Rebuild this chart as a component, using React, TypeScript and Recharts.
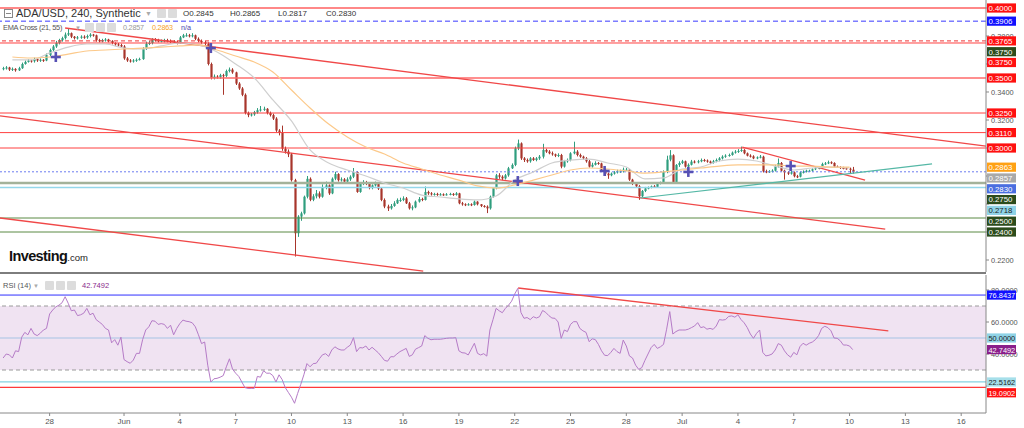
import React from "react";
import {
  ComposedChart,
  Bar,
  Line,
  Scatter,
  XAxis,
  YAxis,
  ReferenceLine,
  ReferenceArea,
} from "recharts";

// 4h candles, index n counted from Jun 1 00:00 (n = 6 per day).
const FIRST_N = -39;
const FIRST_OPEN = 3565;

// prices x 10000
const CLOSES = [
  3570, 3575, 3560, 3565, 3555, 3570, 3600, 3615, 3625, 3620,
  3635, 3625, 3630, 3625, 3665, 3700, 3725, 3750, 3770, 3785,
  3810, 3820, 3795, 3785, 3790, 3795, 3790, 3800, 3810, 3805,
  3770, 3765, 3770, 3775, 3765, 3750, 3740, 3735, 3725, 3640,
  3625, 3620, 3625, 3630, 3635, 3710, 3745, 3750, 3775, 3770,
  3765, 3765, 3770, 3765, 3760, 3755, 3750, 3790, 3805, 3805,
  3800, 3805, 3780, 3765, 3755, 3745, 3600, 3500, 3510, 3505,
  3520, 3515, 3550, 3560, 3540, 3460, 3425, 3380, 3250, 3235,
  3240, 3255, 3270, 3275, 3280, 3250, 3235, 3210, 3125, 3110,
  2995, 2975, 2955, 2770, 2391, 2510, 2533, 2652, 2780, 2630,
  2655, 2676, 2652, 2714, 2733, 2676, 2781, 2814, 2770, 2776,
  2760, 2776, 2795, 2829, 2686, 2745, 2755, 2745, 2714, 2733,
  2745, 2710, 2629, 2582, 2569, 2586, 2605, 2629, 2629, 2640,
  2605, 2569, 2576, 2617, 2636, 2629, 2686, 2676, 2669, 2672,
  2665, 2669, 2665, 2669, 2672, 2665, 2676, 2605, 2598, 2595,
  2598, 2593, 2617, 2598, 2586, 2581, 2569, 2652, 2714, 2805,
  2795, 2783, 2805, 2855, 2879, 2998, 3033, 2926, 2914, 2905,
  2926, 2914, 2926, 2938, 2986, 2974, 2962, 2955, 2945, 2950,
  2867, 2905, 2914, 2962, 2974, 2950, 2938, 2926, 2905, 2867,
  2880, 2893, 2890, 2845, 2817, 2805, 2817, 2826, 2833, 2833,
  2845, 2845, 2774, 2745, 2726, 2655, 2693, 2712, 2717, 2726,
  2722, 2745, 2752, 2829, 2917, 2948, 2752, 2879, 2893, 2905,
  2867, 2880, 2903, 2898, 2905, 2914, 2910, 2903, 2893, 2905,
  2914, 2926, 2938, 2945, 2950, 2967, 2974, 2979, 2986, 2962,
  2945, 2940, 2926, 2933, 2938, 2833, 2830, 2833, 2838, 2869,
  2893, 2838, 2826, 2817, 2826, 2798, 2795, 2826, 2830, 2838,
  2838, 2848, 2855, 2857, 2886, 2890, 2898, 2893, 2867, 2864,
  2857, 2855, 2852, 2845, 2830,
];

const HIGHS = [
  3580, 3585, 3580, 3575, 3570, 3580, 3610, 3625, 3635, 3630,
  3645, 3640, 3640, 3635, 3675, 3710, 3735, 3765, 3780, 3795,
  3825, 3855, 3825, 3800, 3800, 3805, 3805, 3810, 3820, 3815,
  3810, 3780, 3780, 3785, 3780, 3770, 3755, 3750, 3745, 3735,
  3650, 3635, 3635, 3640, 3645, 3720, 3760, 3765, 3785, 3785,
  3780, 3775, 3780, 3780, 3775, 3770, 3765, 3800, 3815, 3820,
  3815, 3820, 3810, 3790, 3775, 3765, 3755, 3610, 3525, 3520,
  3530, 3530, 3560, 3575, 3570, 3545, 3470, 3435, 3390, 3260,
  3250, 3265, 3285, 3300, 3295, 3285, 3260, 3245, 3220, 3135,
  3160, 3010, 2990, 2965, 2780, 2520, 2545, 2660, 2800, 2790,
  2670, 2700, 2690, 2740, 2760, 2740, 2790, 2830, 2820, 2790,
  2785, 2790, 2805, 2857, 2835, 2755, 2770, 2765, 2755, 2740,
  2760, 2750, 2715, 2640, 2595, 2600, 2620, 2640, 2645, 2655,
  2650, 2615, 2590, 2625, 2650, 2645, 2725, 2695, 2685, 2680,
  2680, 2678, 2676, 2678, 2680, 2678, 2685, 2680, 2615, 2605,
  2606, 2605, 2625, 2620, 2600, 2592, 2590, 2660, 2720, 2815,
  2820, 2805, 2815, 2865, 2890, 3010, 3060, 3040, 2935, 2925,
  2935, 2935, 2935, 2950, 3030, 2995, 2985, 2975, 2960, 2962,
  2958, 2915, 2925, 2970, 3045, 2985, 2960, 2945, 2935, 2915,
  2895, 2905, 2900, 2895, 2850, 2825, 2825, 2835, 2845, 2845,
  2860, 2858, 2850, 2780, 2755, 2735, 2700, 2722, 2725, 2732,
  2735, 2752, 2760, 2840, 2945, 2985, 2955, 2885, 2905, 2915,
  2910, 2890, 2915, 2912, 2915, 2925, 2922, 2918, 2910, 2915,
  2925, 2935, 2948, 2955, 2960, 2975, 2985, 2992, 3010, 2992,
  2968, 2955, 2948, 2940, 2950, 2945, 2845, 2842, 2848, 2880,
  2925, 2900, 2845, 2835, 2835, 2832, 2808, 2832, 2840, 2845,
  2845, 2855, 2862, 2865, 2895, 2900, 2910, 2905, 2898, 2875,
  2870, 2866, 2862, 2860, 2865,
];

const LOWS = [
  3555, 3560, 3550, 3550, 3545, 3550, 3565, 3595, 3610, 3610,
  3610, 3615, 3615, 3615, 3620, 3655, 3690, 3715, 3740, 3760,
  3775, 3800, 3785, 3775, 3775, 3780, 3780, 3780, 3790, 3795,
  3760, 3755, 3755, 3760, 3755, 3740, 3730, 3725, 3715, 3630,
  3615, 3610, 3610, 3615, 3625, 3630, 3700, 3735, 3740, 3760,
  3755, 3755, 3755, 3755, 3750, 3745, 3740, 3745, 3785, 3795,
  3790, 3790, 3770, 3755, 3745, 3735, 3590, 3490, 3490, 3495,
  3495, 3380, 3505, 3540, 3530, 3450, 3415, 3370, 3240, 3220,
  3225, 3230, 3245, 3260, 3265, 3240, 3225, 3200, 3115, 3090,
  2980, 2960, 2935, 2760, 2225, 2365, 2480, 2525, 2640, 2620,
  2620, 2640, 2640, 2645, 2705, 2665, 2670, 2770, 2760, 2760,
  2750, 2750, 2765, 2785, 2680, 2680, 2735, 2735, 2705, 2705,
  2725, 2700, 2620, 2570, 2550, 2560, 2580, 2600, 2615, 2620,
  2600, 2560, 2555, 2570, 2610, 2620, 2625, 2665, 2660, 2660,
  2658, 2660, 2658, 2660, 2662, 2658, 2660, 2598, 2588, 2585,
  2588, 2585, 2588, 2590, 2578, 2574, 2535, 2560, 2645, 2705,
  2780, 2770, 2775, 2795, 2850, 2870, 2985, 2915, 2900, 2895,
  2895, 2908, 2905, 2915, 2925, 2965, 2955, 2945, 2935, 2935,
  2855, 2860, 2895, 2905, 2955, 2940, 2930, 2915, 2895, 2860,
  2860, 2875, 2880, 2840, 2800, 2780, 2798, 2810, 2818, 2822,
  2825, 2835, 2765, 2735, 2715, 2630, 2650, 2685, 2705, 2712,
  2715, 2715, 2740, 2745, 2820, 2905, 2745, 2745, 2865, 2885,
  2860, 2860, 2875, 2890, 2890, 2898, 2902, 2895, 2885, 2888,
  2898, 2905, 2918, 2930, 2938, 2945, 2960, 2965, 2972, 2955,
  2940, 2932, 2920, 2920, 2926, 2825, 2820, 2822, 2826, 2832,
  2860, 2832, 2774, 2808, 2810, 2790, 2785, 2790, 2818, 2825,
  2830, 2832, 2842, 2848, 2852, 2878, 2885, 2885, 2860, 2858,
  2850, 2848, 2845, 2814, 2817,
];

const RSI = [
  37.5, 40, 39.5, 37.5, 42, 41.5, 50.5, 53.5, 52, 56,
  52.5, 51.5, 53, 55, 56, 65, 67.5, 69.5, 70.5, 72,
  75.8, 71.7, 67, 67.5, 64, 64.5, 65.5, 68.5, 64.5, 65.5,
  61.5, 60, 58.5, 56, 55, 47, 49, 45.5, 50.5, 36.5,
  35.2, 34.2, 36.2, 40.4, 40.4, 49, 55, 57, 60.8, 60.5,
  58.5, 59, 58.5, 56, 58, 52, 56, 59, 61.2, 60.5,
  60.2, 59.5, 57, 52, 46.5, 47.5, 33, 22.5, 24.5, 24.8,
  25.5, 26.5, 32, 37, 30.5, 28, 26, 22.5, 19, 18.5,
  18.5, 18.5, 26, 25.5, 29.5, 28, 28, 26.5, 22.5, 27,
  24, 19, 16, 13, 9.2, 15.4, 21, 27, 34, 32,
  34, 34.2, 37, 39.5, 40.2, 38.5, 42.5, 44.5, 43.2, 42.5,
  42.5, 44.2, 45.6, 50.2, 41.5, 44, 43.8, 45, 42.5, 44.2,
  42.5, 40.8, 38.5, 36, 35.5, 38.3, 38.3, 40, 41.5, 42.5,
  43.5, 38.5, 39.5, 43, 44, 45, 51.5, 49.8, 48.9, 49.2,
  49.2, 49.2, 49.5, 49.8, 50, 50, 50.2, 42, 40.8, 40.6,
  39.4, 43, 46.7, 40.4, 39.4, 40.2, 38.7, 55, 61.5, 68.5,
  67, 65.8, 68.5, 70.5, 73, 77.5, 81, 66, 62.3, 62.8,
  61.5, 63.3, 62.5, 63.3, 67.2, 66, 64, 62.5, 62.3, 60,
  49.8, 55, 54, 58.5, 60.2, 60.2, 56, 54.5, 53.5, 47.7,
  49.5, 49, 46, 42, 39.2, 39, 41, 43.5, 41.5, 40.4,
  48.7, 45, 38.8, 37.5, 33, 30.4, 31.5, 36, 40, 44,
  46, 43.5, 44.5, 46, 55.5, 66.5, 52.5, 54, 55, 55,
  55, 55.5, 56.5, 57.5, 59.6, 56.5, 57, 55.5, 56, 55.4,
  57.5, 61.5, 61.2, 61.5, 63.5, 63.8, 63, 64.5, 61.5, 59.5,
  56.5, 52.5, 49.8, 52.9, 55, 41, 38.8, 39.2, 40, 42.5,
  46.5, 45.5, 42, 39.5, 38, 41, 39.5, 44.6, 46.7, 45.5,
  46.7, 47.5, 49, 51.5, 56, 57.3, 56.5, 54.5, 50, 49.8,
  48.3, 45.6, 45.6, 45, 42.75,
];

// EMA values read once per day
const EMA_N = [
  -36, -30, -24, -18, -12, -6, 0, 6, 12, 18, 24, 30, 36, 42, 48, 54, 60, 66, 72, 78,
  84, 90, 96, 102, 108, 114, 120, 126, 132, 138, 144, 150, 156, 162, 168, 174, 180,
  186, 192, 198, 204, 210, 216, 222, 228, 234,
];
const EMA21 = [
  0.3629, 0.3629, 0.3679, 0.3721, 0.3743, 0.3743, 0.3714, 0.3707, 0.3729, 0.375,
  0.3736, 0.3686, 0.36, 0.35, 0.3343, 0.3193, 0.2986, 0.2893, 0.2843, 0.28,
  0.275, 0.2714, 0.2664, 0.265, 0.2636, 0.2629, 0.2657, 0.2771, 0.2829, 0.2893,
  0.2914, 0.2921, 0.2893, 0.2864, 0.2779, 0.2786, 0.285, 0.2864, 0.2907, 0.2921,
  0.2907, 0.2871, 0.2843, 0.2857, 0.2864, 0.2857,
];
const EMA55 = [
  0.365, 0.3643, 0.365, 0.3671, 0.3693, 0.37, 0.3707, 0.3714, 0.3721, 0.3729,
  0.3736, 0.37, 0.3657, 0.3614, 0.3543, 0.3414, 0.3286, 0.3171, 0.3079, 0.3007,
  0.2957, 0.2893, 0.285, 0.2807, 0.2771, 0.2729, 0.2714, 0.2736, 0.2771, 0.2807,
  0.2843, 0.2857, 0.285, 0.2836, 0.2821, 0.2829, 0.2843, 0.2857, 0.2871, 0.2879,
  0.2879, 0.2879, 0.2871, 0.2871, 0.2864, 0.2864,
];

const CROSS_N = [-22, 28, 127, 155, 182, 215];
const CROSS_P = [0.365, 0.3714, 0.2764, 0.2836, 0.2829, 0.2871];

const X_TICKS = [-24, 0, 18, 36, 54, 72, 90, 108, 126, 144, 162, 180, 198, 216, 234, 252, 270];
const X_LABELS = ["28", "Jun", "4", "7", "10", "13", "16", "19", "22", "25", "28", "Jul", "4", "7", "10", "13", "16"];

const PRICE_TICKS = [0.22, 0.24, 0.26, 0.28, 0.3, 0.32, 0.34, 0.36, 0.38, 0.4];
const RSI_TICKS = [20, 40, 60, 80];

const LEVELS = [0.4, 0.3906, 0.3765, 0.375, 0.375, 0.35, 0.325, 0.311, 0.3, 0.2863, 0.2857, 0.283, 0.275, 0.2718, 0.25, 0.24];
const RSI_LEVELS = [76.8437, 50, 42.7492, 22.5162, 19.0902];

// [n1, price1, n2, price2]
const PRICE_TRENDS = [
  [-19, 0.3857, 278, 0.3014],
  [-40, 0.3229, 245.5, 0.2421],
  [-40, 0.25, 96.5, 0.2121],
  [199.4, 0.3007, 239, 0.2771],
];
const SUPPORT_TREND = [166.5, 0.2643, 260.6, 0.2886];
const RSI_TREND = [127.1, 81.25, 246.5, 54.4];

// ---- layout / style ----
const FONT = "'Liberation Sans', Arial, sans-serif";
const W = 1024;
const AXIS_W = 38;
const PRICE_H = 272;
const PRICE_MIN = 0.211429;
const PRICE_MAX = 0.405714;
const RSI_TOP = 274;
const RSI_H = 154;
const RSI_PAD_TOP = 1;
const RSI_AXIS_H = 15;
const RSI_PLOT_H = RSI_H - RSI_PAD_TOP - RSI_AXIS_H;
const RSI_MIN = 3.125;
const RSI_MAX = 89.375;
const X_MIN = -40;
const X_MAX = 278;
const UP = "#2f9e7e";
const DOWN = "#a8352b";
const TREND_RED = "#f04848";
const TAG_H = 9.2;

const LEVEL_STYLE = [
  { tag: "#ff1010", fg: "#fff", line: "#ff6060", w: 2, dash: undefined as string | undefined },
  { tag: "#1010ff", fg: "#fff", line: "#3a3aff", w: 1, dash: "5 3" },
  { tag: "#ff1010", fg: "#fff", line: "#ee3333", w: 1, dash: "4 3" },
  { tag: "#2c4c1c", fg: "#fff", line: "none", w: 1, dash: undefined },
  { tag: "#ff1010", fg: "#fff", line: "#ff4040", w: 1, dash: undefined },
  { tag: "#ff1010", fg: "#fff", line: "#ff6a6a", w: 1.5, dash: undefined },
  { tag: "#ff1010", fg: "#fff", line: "#ff4040", w: 1, dash: undefined },
  { tag: "#ff1010", fg: "#fff", line: "#ff4040", w: 1, dash: undefined },
  { tag: "#ff1010", fg: "#fff", line: "#ff4040", w: 1, dash: undefined },
  { tag: "#ffa114", fg: "#fff", line: "none", w: 1, dash: undefined },
  { tag: "#a9a9a9", fg: "#fff", line: "none", w: 1, dash: undefined },
  { tag: "#4a6ee0", fg: "#fff", line: "#6b7cf0", w: 1, dash: "2 2" },
  { tag: "#2c4c1c", fg: "#fff", line: "#a3b29a", w: 2.5, dash: undefined },
  { tag: "#8fd3e6", fg: "#222", line: "#93d7ea", w: 1.5, dash: undefined },
  { tag: "#2c4c1c", fg: "#fff", line: "#5a8a44", w: 1, dash: undefined },
  { tag: "#2c4c1c", fg: "#fff", line: "#5a8a44", w: 1, dash: undefined },
];

const RSI_STYLE = [
  { tag: "#1010ff", fg: "#fff", line: "#3030ff", w: 1 },
  { tag: "#8fd3e6", fg: "#222", line: "#a6c4e4", w: 1.2 },
  { tag: "#8a1f8a", fg: "#fff", line: "none", w: 1 },
  { tag: "#a6dfea", fg: "#222", line: "#86d2e2", w: 1.2 },
  { tag: "#ff1010", fg: "#fff", line: "#ff3a3a", w: 1.2 },
];

// push overlapping right-axis tags down, like the original terminal does
function dodge(values: number[], min: number, max: number, h: number, gap: number) {
  let prev = -Infinity;
  return values.map((v) => {
    const nat = ((max - v) / (max - min)) * h;
    const placed = Math.max(nat, prev + gap);
    prev = placed;
    return { dy: placed - nat, placed };
  });
}

const LEVEL_POS = dodge(LEVELS, PRICE_MIN, PRICE_MAX, PRICE_H, 10.8);
const RSI_POS = dodge(RSI_LEVELS, RSI_MIN, RSI_MAX, RSI_PLOT_H, 10.8);

interface Row {
  n: number;
  o: number;
  c: number;
  h: number;
  l: number;
  range: [number, number];
  rsi: number;
  ema21?: number;
  ema55?: number;
}

const rows: Row[] = CLOSES.map((c, i) => {
  const o = i === 0 ? FIRST_OPEN : CLOSES[i - 1];
  return {
    n: FIRST_N + i,
    o: o / 1e4,
    c: c / 1e4,
    h: HIGHS[i] / 1e4,
    l: LOWS[i] / 1e4,
    range: [LOWS[i] / 1e4, HIGHS[i] / 1e4],
    rsi: RSI[i],
  };
});
EMA_N.forEach((n, k) => {
  const r = rows[n - FIRST_N];
  r.ema21 = EMA21[k];
  r.ema55 = EMA55[k];
});

const crosses = CROSS_N.map((n, i) => ({ n, p: CROSS_P[i] }));

function Candle(props: any) {
  const { x, y, width, height, payload } = props;
  if (!payload || x == null || y == null) return null;
  const { o, c, h, l } = payload as Row;
  const top = Math.min(y, y + height);
  const span = Math.abs(height);
  const py = (p: number) => top + ((h - p) / (h - l)) * span;
  const cx = Math.round(x + width / 2) + 0.5;
  const col = c >= o ? UP : DOWN;
  const bt = py(Math.max(o, c));
  const bb = py(Math.min(o, c));
  return (
    <g>
      <line x1={cx} x2={cx} y1={top} y2={top + span} stroke={col} strokeWidth={1} />
      <rect x={cx - 1.1} y={bt} width={2.2} height={Math.max(1, bb - bt)} fill={col} />
    </g>
  );
}

function CrossMark(props: any) {
  const { cx, cy } = props;
  if (cx == null || cy == null) return null;
  return (
    <g fill="#5650b4">
      <rect x={cx - 5} y={cy - 1.3} width={10} height={2.6} />
      <rect x={cx - 1.3} y={cy - 5} width={2.6} height={10} />
    </g>
  );
}

function Tag(props: any) {
  const { viewBox, text, bg, fg, dy, size } = props;
  if (!viewBox) return null;
  const x = viewBox.x + viewBox.width + 1;
  const y = viewBox.y + dy;
  return (
    <g>
      <rect x={x} y={y - TAG_H / 2} width={29} height={TAG_H} fill={bg} />
      <text x={x + 1.5} y={y + 2.9} fontSize={size} fill={fg} fontFamily={FONT}>
        {text}
      </text>
    </g>
  );
}

// axis tick that is left out where the tags would hide most of it
function makeTick(tagYs: number[], offsetY: number) {
  return function AxisTick(props: any) {
    const { x, y, payload } = props;
    const top = y - 3.5;
    const bot = y + 3.5;
    let covered = 0;
    tagYs.forEach((c) => {
      const a = Math.max(top, c + offsetY - TAG_H / 2);
      const b = Math.min(bot, c + offsetY + TAG_H / 2);
      if (b > a) covered += b - a;
    });
    if (covered / 7 > 0.6) return <g />;
    return (
      <text x={x} y={y} dy={2.6} fontSize={7.4} fill="#555" fontFamily={FONT} textAnchor="start">
        {Number(payload.value).toFixed(4)}
      </text>
    );
  };
}

const PriceTick = makeTick(LEVEL_POS.map((p) => p.placed), 0);
const RsiTick = makeTick(RSI_POS.map((p) => p.placed), RSI_PAD_TOP);

const abs: React.CSSProperties = {
  position: "absolute",
  whiteSpace: "nowrap",
  fontFamily: FONT,
  lineHeight: 1,
};

function Icons({ left, top, count }: { left: number; top: number; count: number }) {
  return (
    <>
      {Array.from({ length: count }).map((_, i) => (
        <div
          key={i}
          style={{
            position: "absolute",
            left: left + i * 11,
            top,
            width: 9,
            height: 9,
            background: "#dcdcdc",
            borderRadius: 1,
          }}
        />
      ))}
    </>
  );
}

export default function App() {
  return (
    <div
      style={{
        position: "absolute",
        left: 0,
        top: 0,
        width: W,
        height: 428,
        background: "#fff",
        overflow: "hidden",
        fontFamily: FONT,
      }}
    >
      <div style={{ position: "absolute", left: 0, top: 0 }}>
        <ComposedChart width={W} height={PRICE_H} data={rows} margin={{ top: 0, right: 0, bottom: 0, left: 0 }}>
          <XAxis type="number" dataKey="n" domain={[X_MIN, X_MAX]} hide allowDataOverflow />
          <YAxis
            orientation="right"
            width={AXIS_W}
            domain={[PRICE_MIN, PRICE_MAX]}
            ticks={PRICE_TICKS}
            allowDataOverflow
            tick={PriceTick}
            tickSize={3}
            axisLine={{ stroke: "#888" }}
            tickLine={{ stroke: "#888" }}
          />
          {LEVELS.map((v, i) =>
            LEVEL_STYLE[i].line === "none" ? null : (
              <ReferenceLine
                key={"l" + i}
                y={v}
                stroke={LEVEL_STYLE[i].line}
                strokeWidth={LEVEL_STYLE[i].w}
                strokeDasharray={LEVEL_STYLE[i].dash}
                strokeOpacity={i === 0 ? 0.75 : 1}
              />
            )
          )}
          {PRICE_TRENDS.map((t, i) => (
            <ReferenceLine
              key={"t" + i}
              segment={[
                { x: t[0], y: t[1] },
                { x: t[2], y: t[3] },
              ]}
              stroke={TREND_RED}
              strokeWidth={1.3}
              ifOverflow="visible"
            />
          ))}
          <ReferenceLine
            segment={[
              { x: SUPPORT_TREND[0], y: SUPPORT_TREND[1] },
              { x: SUPPORT_TREND[2], y: SUPPORT_TREND[3] },
            ]}
            stroke="#55b8a6"
            strokeWidth={1.2}
            ifOverflow="visible"
          />
          <Line type="monotone" dataKey="ema21" stroke="#cfcfcf" strokeWidth={1.2} dot={false} connectNulls isAnimationActive={false} />
          <Line type="monotone" dataKey="ema55" stroke="#fcc98a" strokeWidth={1.2} dot={false} connectNulls isAnimationActive={false} />
          <Bar dataKey="range" barSize={3} shape={(p: any) => <Candle {...p} />} isAnimationActive={false} />
          <Scatter data={crosses} dataKey="p" shape={(p: any) => <CrossMark {...p} />} isAnimationActive={false} />
        </ComposedChart>
      </div>

      {/* price tags drawn on a layer above the axis text */}
      <div style={{ position: "absolute", left: 0, top: 0, pointerEvents: "none" }}>
        <ComposedChart width={W} height={PRICE_H} data={rows} margin={{ top: 0, right: AXIS_W, bottom: 0, left: 0 }}>
          <XAxis type="number" dataKey="n" domain={[X_MIN, X_MAX]} hide allowDataOverflow />
          <YAxis hide domain={[PRICE_MIN, PRICE_MAX]} allowDataOverflow />
          {LEVELS.map((v, i) => (
            <ReferenceLine
              key={"g" + i}
              y={v}
              stroke="none"
              label={
                <Tag text={v.toFixed(4)} bg={LEVEL_STYLE[i].tag} fg={LEVEL_STYLE[i].fg} dy={LEVEL_POS[i].dy} size={7.8} />
              }
            />
          ))}
        </ComposedChart>
      </div>

      <div style={{ position: "absolute", left: 0, top: 272, width: 986, height: 2, background: "#7d7d7d" }} />

      <div style={{ position: "absolute", left: 0, top: RSI_TOP }}>
        <ComposedChart width={W} height={RSI_H} data={rows} margin={{ top: RSI_PAD_TOP, right: 0, bottom: 0, left: 0 }}>
          <XAxis
            type="number"
            dataKey="n"
            domain={[X_MIN, X_MAX]}
            allowDataOverflow
            ticks={X_TICKS}
            interval={0}
            tickFormatter={(v: number) => X_LABELS[X_TICKS.indexOf(v)] ?? ""}
            height={RSI_AXIS_H}
            tickSize={3}
            tick={{ fontSize: 8, fill: "#555", fontFamily: FONT }}
            axisLine={{ stroke: "#888" }}
            tickLine={{ stroke: "#888" }}
          />
          <YAxis
            orientation="right"
            width={AXIS_W}
            domain={[RSI_MIN, RSI_MAX]}
            ticks={RSI_TICKS}
            allowDataOverflow
            tick={RsiTick}
            tickSize={3}
            axisLine={{ stroke: "#888" }}
            tickLine={{ stroke: "#888" }}
          />
          <ReferenceArea y1={30} y2={70} fill="#f0e3f2" fillOpacity={1} stroke="none" />
          <ReferenceLine y={70} stroke="#9a9a9a" strokeDasharray="4 3" />
          <ReferenceLine y={30} stroke="#9a9a9a" strokeDasharray="4 3" />
          {RSI_LEVELS.map((v, i) =>
            RSI_STYLE[i].line === "none" ? null : (
              <ReferenceLine key={"rl" + i} y={v} stroke={RSI_STYLE[i].line} strokeWidth={RSI_STYLE[i].w} />
            )
          )}
          <ReferenceLine
            segment={[
              { x: RSI_TREND[0], y: RSI_TREND[1] },
              { x: RSI_TREND[2], y: RSI_TREND[3] },
            ]}
            stroke={TREND_RED}
            strokeWidth={1.3}
            ifOverflow="visible"
          />
          <Line type="linear" dataKey="rsi" stroke="#b57bc7" strokeWidth={1} dot={false} isAnimationActive={false} />
        </ComposedChart>
      </div>

      <div style={{ position: "absolute", left: 0, top: RSI_TOP, pointerEvents: "none" }}>
        <ComposedChart
          width={W}
          height={RSI_H}
          data={rows}
          margin={{ top: RSI_PAD_TOP, right: AXIS_W, bottom: RSI_AXIS_H, left: 0 }}
        >
          <XAxis type="number" dataKey="n" domain={[X_MIN, X_MAX]} hide allowDataOverflow />
          <YAxis hide domain={[RSI_MIN, RSI_MAX]} allowDataOverflow />
          {RSI_LEVELS.map((v, i) => (
            <ReferenceLine
              key={"rg" + i}
              y={v}
              stroke="none"
              label={<Tag text={v.toFixed(4)} bg={RSI_STYLE[i].tag} fg={RSI_STYLE[i].fg} dy={RSI_POS[i].dy} size={7.4} />}
            />
          ))}
        </ComposedChart>
      </div>

      {/* header: symbol */}
      <div style={{ position: "absolute", left: 4, top: 9, width: 7, height: 7, border: "1px solid #888" }}>
        <div style={{ position: "absolute", left: 1, top: 3, width: 5, height: 1, background: "#888" }} />
      </div>
      <div style={{ ...abs, left: 16, top: 8, fontSize: 11, color: "#333" }}>ADA/USD, 240, Synthetic</div>
      <div style={{ ...abs, left: 145, top: 10, fontSize: 7, color: "#aaa" }}>▼</div>
      <Icons left={157} top={9} count={2} />
      <div style={{ ...abs, left: 183, top: 10, fontSize: 8, color: "#333" }}>O0.2845</div>
      <div style={{ ...abs, left: 230, top: 10, fontSize: 8, color: "#333" }}>H0.2865</div>
      <div style={{ ...abs, left: 278, top: 10, fontSize: 8, color: "#333" }}>L0.2817</div>
      <div style={{ ...abs, left: 326, top: 10, fontSize: 8, color: "#333" }}>C0.2830</div>

      {/* header: EMA cross */}
      <div style={{ ...abs, left: 3, top: 24, fontSize: 7.4, color: "#555", letterSpacing: -0.3 }}>EMA Cross (21, 55)</div>
      <div style={{ ...abs, left: 75, top: 25, fontSize: 6, color: "#aaa" }}>▼</div>
      <Icons left={85} top={23} count={3} />
      <div style={{ ...abs, left: 123, top: 24, fontSize: 7.2, color: "#999", letterSpacing: -0.2 }}>0.2857</div>
      <div style={{ ...abs, left: 152, top: 24, fontSize: 7.2, color: "#f7a21e", letterSpacing: -0.2 }}>0.2863</div>
      <div style={{ ...abs, left: 181, top: 24, fontSize: 7.2, color: "#4a48b0" }}>n/a</div>

      {/* logo */}
      <div style={{ ...abs, left: 9, top: 249, display: "flex", alignItems: "baseline" }}>
        <span style={{ fontSize: 14.5, fontWeight: 700, color: "#111", letterSpacing: -0.6 }}>Investing</span>
        <span style={{ fontSize: 9.5, color: "#222" }}>.com</span>
      </div>

      {/* header: RSI */}
      <div style={{ ...abs, left: 3, top: 282, fontSize: 7.5, color: "#555" }}>RSI (14)</div>
      <div style={{ ...abs, left: 33, top: 283, fontSize: 6, color: "#aaa" }}>▼</div>
      <Icons left={45} top={281} count={3} />
      <div style={{ ...abs, left: 82, top: 282, fontSize: 7.5, color: "#8a2a8a" }}>42.7492</div>
    </div>
  );
}
